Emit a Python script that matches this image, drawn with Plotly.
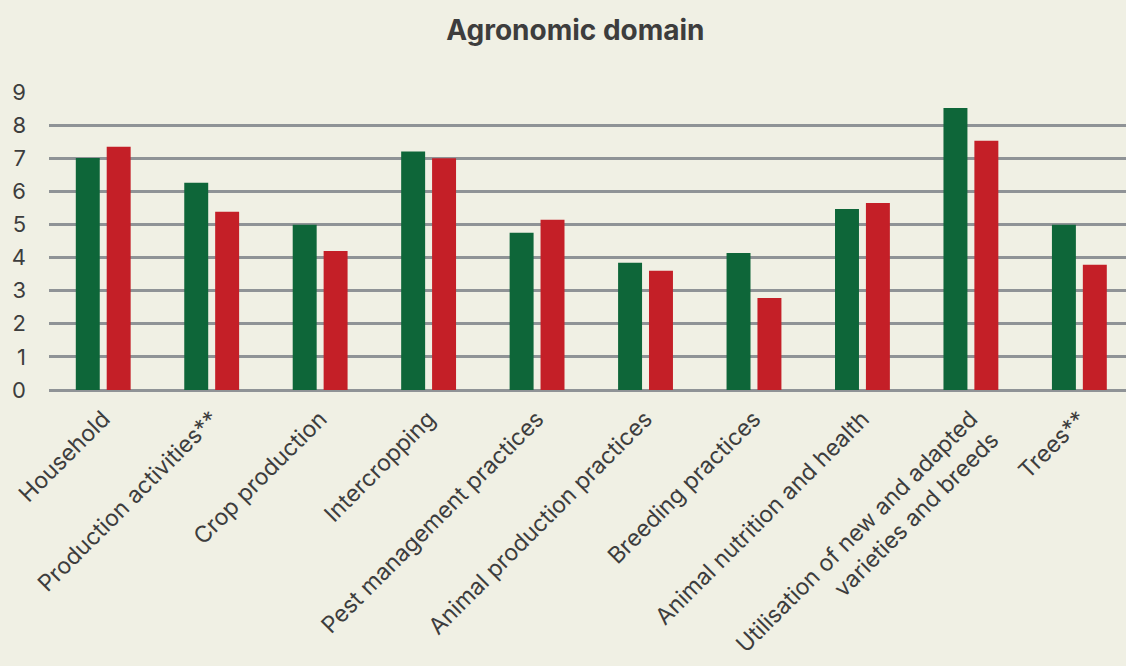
import plotly.graph_objects as go

categories = [
    "Household",
    "Production activities**",
    "Crop production",
    "Intercropping",
    "Pest management practices",
    "Animal production practices",
    "Breeding practices",
    "Animal nutrition and health",
    "Utilisation of new and adapted<br>varieties and breeds",
    "Trees**",
]
series_green = [7.01, 6.26, 4.99, 7.2, 4.75, 3.84, 4.14, 5.47, 8.52, 4.99]
series_red = [7.35, 5.38, 4.20, 7.0, 5.14, 3.60, 2.78, 5.65, 7.53, 3.78]
y_ticks = [0, 1, 2, 3, 4, 5, 6, 7, 8, 9]

GREEN = "#0e6639"
RED = "#c41f27"
BG = "#f0f0e4"
TXT = "#3d3d3d"
GRID = "#8f9396"
FONT = "Inter, sans-serif"

fig = go.Figure()
fig.add_trace(go.Bar(x=categories, y=series_green, marker=dict(color=GREEN, line=dict(width=0)), name="A"))
fig.add_trace(go.Bar(x=categories, y=series_red, marker=dict(color=RED, line=dict(width=0)), name="B"))

fig.update_layout(
    width=1126, height=666,
    paper_bgcolor=BG, plot_bgcolor=BG,
    margin=dict(l=49, r=0, t=92, b=276, autoexpand=False),
    barmode="group", bargap=0.43, bargroupgap=0.225,
    showlegend=False,
    title=dict(text="<b>Agronomic domain</b>", x=0.511, xanchor="center", y=0.955, yanchor="middle",
               font=dict(family=FONT, size=28, color=TXT)),
    font=dict(family=FONT, color=TXT),
)
fig.update_xaxes(
    type="category", range=[-0.5, 9.43], tickangle=-45, automargin=False,
    tickfont=dict(size=23, color=TXT), showgrid=False, showline=False, ticks="",
    ticklabelstandoff=10,
)
fig.update_yaxes(
    range=[0, 9], tickvals=y_ticks, automargin=False,
    tickfont=dict(size=22, color=TXT), showgrid=True, gridcolor=GRID, gridwidth=2.5,
    zeroline=True, zerolinecolor=GRID, zerolinewidth=3, showline=False, ticks="",
    ticklabelstandoff=22,
)
fig.write_html(
    "out.html",
    config={"displayModeBar": False},
    post_script="document.body.style.margin='0';document.body.style.overflow='hidden';",
)
